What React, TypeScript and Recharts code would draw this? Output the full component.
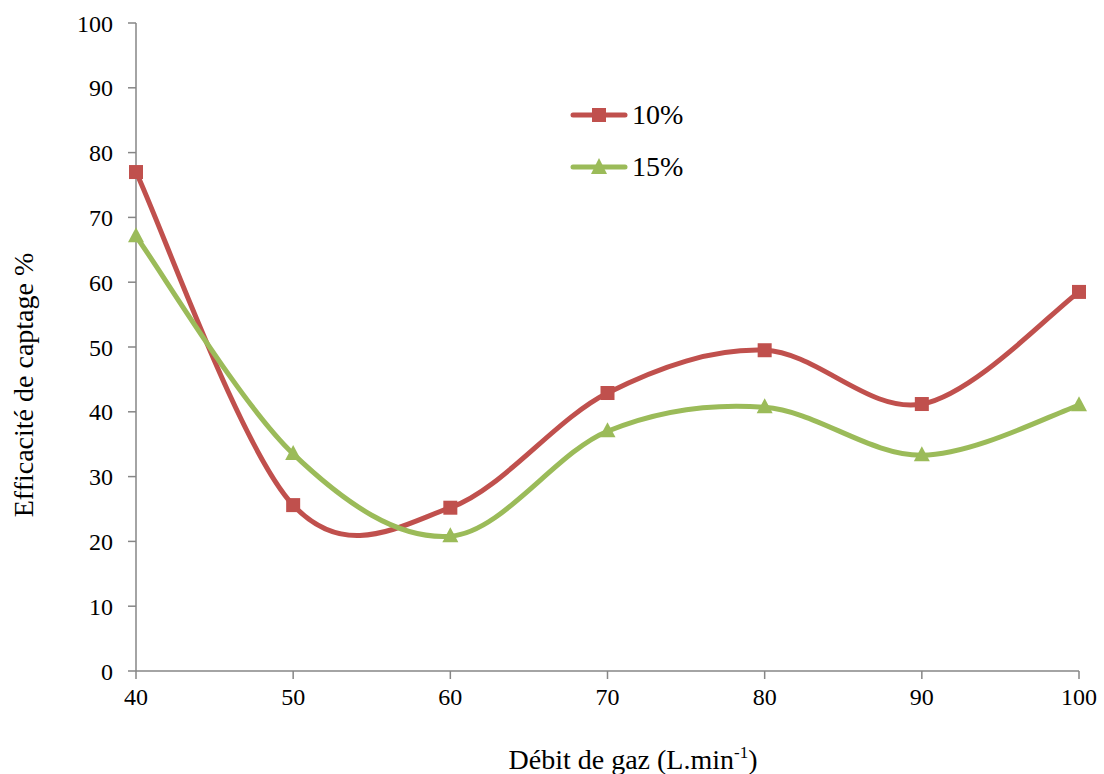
import { CartesianGrid, Label, Legend, Line, LineChart, XAxis, YAxis } from "recharts";

const debit = [40, 50, 60, 70, 80, 90, 100];
const eff10 = [77.0, 25.6, 25.2, 42.9, 49.5, 41.2, 58.5];
const eff15 = [67.1, 33.5, 20.8, 37.0, 40.7, 33.3, 41.0];
const xTicks = [40, 50, 60, 70, 80, 90, 100];
const yTicks = [0, 10, 20, 30, 40, 50, 60, 70, 80, 90, 100];

const data = debit.map((d, i) => ({ debit: d, s10: eff10[i], s15: eff15[i] }));

const RED = "#C0504D";
const GREEN = "#9BBB59";
const AXIS = "#868686";
const FONT = "Liberation Serif, Times New Roman, serif";

// smoothing like the office spreadsheet one (catmull-rom, 1/6 tangents)
const smoothCurve = (context: any) => {
  let pts: [number, number][] = [];
  return {
    areaStart() {},
    areaEnd() {},
    lineStart() {
      pts = [];
    },
    point(x: number, y: number) {
      pts.push([+x, +y]);
    },
    lineEnd() {
      const n = pts.length;
      if (!n) return;
      context.moveTo(pts[0][0], pts[0][1]);
      for (let i = 0; i < n - 1; i++) {
        const p0 = pts[Math.max(i - 1, 0)];
        const p1 = pts[i];
        const p2 = pts[i + 1];
        const p3 = pts[Math.min(i + 2, n - 1)];
        context.bezierCurveTo(
          p1[0] + (p2[0] - p0[0]) / 6,
          p1[1] + (p2[1] - p0[1]) / 6,
          p2[0] - (p3[0] - p1[0]) / 6,
          p2[1] - (p3[1] - p1[1]) / 6,
          p2[0],
          p2[1]
        );
      }
    },
  };
};

function Square(props: any) {
  const { cx, cy, index } = props;
  if (cx == null || cy == null) return null;
  return <rect key={index} x={cx - 7} y={cy - 7} width={14} height={14} fill={RED} />;
}

function Triangle(props: any) {
  const { cx, cy, index } = props;
  if (cx == null || cy == null) return null;
  return <path key={index} d={`M${cx},${cy - 9} L${cx + 8},${cy + 6} L${cx - 8},${cy + 6} Z`} fill={GREEN} />;
}

function LegendBox() {
  const rows = [
    { name: "10%", color: RED, kind: "sq" },
    { name: "15%", color: GREEN, kind: "tri" },
  ];
  return (
    <div style={{ fontFamily: FONT, fontSize: 28, color: "#000" }}>
      {rows.map((r) => (
        <div key={r.name} style={{ display: "flex", alignItems: "center", height: 52 }}>
          <svg width={58} height={20} style={{ marginRight: 4 }}>
            <line x1={3} y1={10} x2={55} y2={10} stroke={r.color} strokeWidth={5} strokeLinecap="round" />
            {r.kind === "sq" ? (
              <rect x={22} y={3} width={14} height={14} fill={r.color} />
            ) : (
              <path d="M29,1 L37,17 L21,17 Z" fill={r.color} />
            )}
          </svg>
          <span>{r.name}</span>
        </div>
      ))}
    </div>
  );
}

function XTitle() {
  return (
    <text x={633} y={769} textAnchor="middle" fontFamily={FONT} fontSize={28} fill="#000">
      Débit de gaz (L.min
      <tspan dy={-11} fontSize={17}>-1</tspan>
      <tspan dy={11}>)</tspan>
    </text>
  );
}

function YTitle() {
  return (
    <text
      x={33}
      y={385}
      transform="rotate(-90 33 385)"
      textAnchor="middle"
      fontFamily={FONT}
      fontSize={28}
      fill="#000"
    >
      Efficacité de captage %
    </text>
  );
}

export default function App() {
  return (
    <div style={{ position: "absolute", left: 0, top: 0, background: "#fff" }}>
      <LineChart width={1104} height={774} data={data} margin={{ top: 23, right: 25, bottom: 0, left: 0 }}>
        <CartesianGrid stroke="none" />
        <XAxis
          dataKey="debit"
          type="number"
          domain={[40, 100]}
          ticks={xTicks}
          interval={0}
          height={103}
          tickSize={8}
          tickMargin={9}
          stroke={AXIS}
          strokeWidth={1.5}
          tick={{ fill: "#000", fontSize: 24, fontFamily: FONT }}
        >
          <Label content={<XTitle />} />
        </XAxis>
        <YAxis
          type="number"
          domain={[0, 100]}
          ticks={yTicks}
          interval={0}
          width={136}
          tickSize={8}
          tickMargin={15}
          stroke={AXIS}
          strokeWidth={1.5}
          tick={{ fill: "#000", fontSize: 24, fontFamily: FONT }}
        >
          <Label content={<YTitle />} />
        </YAxis>
        <Legend
          layout="horizontal"
          verticalAlign="middle"
          align="center"
          content={<LegendBox />}
          wrapperStyle={{ left: 570, top: 89, width: 150 }}
        />
        <Line
          dataKey="s10"
          name="10%"
          type={smoothCurve as any}
          stroke={RED}
          strokeWidth={5}
          dot={<Square />}
          activeDot={false}
          isAnimationActive={false}
        />
        <Line
          dataKey="s15"
          name="15%"
          type={smoothCurve as any}
          stroke={GREEN}
          strokeWidth={5}
          dot={<Triangle />}
          activeDot={false}
          isAnimationActive={false}
        />
      </LineChart>
    </div>
  );
}
